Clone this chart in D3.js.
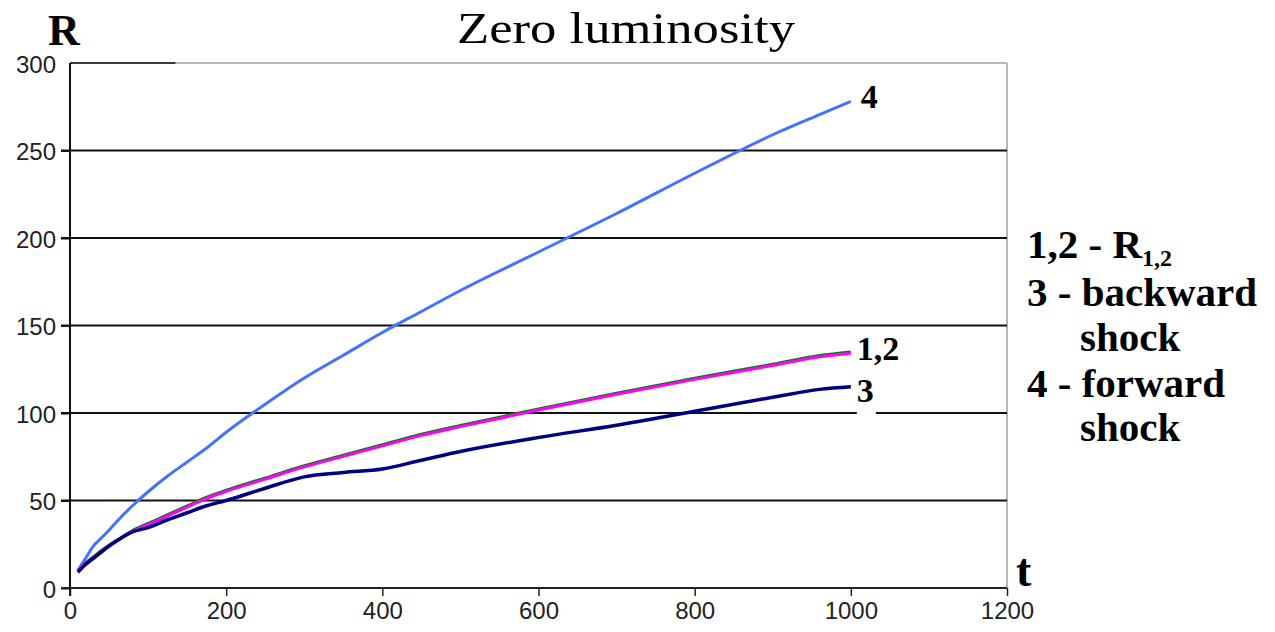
<!DOCTYPE html>
<html>
<head>
<meta charset="utf-8">
<script src="https://cdn.jsdelivr.net/npm/d3@7"></script>
<style>
  html, body { margin: 0; padding: 0; background: #fff; }
  svg { display: block; }
</style>
</head>
<body>
<svg id="chart" width="1275" height="632"></svg>
<script>
// Shock radii versus time, zero-luminosity case
const times    = [10, 20, 30, 40, 50, 60, 80, 100, 125, 150, 175, 200, 250, 300, 350, 400, 450, 500, 600, 700, 800, 900, 960, 1000];
const forward  = [10, 17, 24, 28.5, 33, 38, 47, 55, 64, 72, 80, 89, 105, 120, 133, 146, 158, 170, 192, 214, 237, 259, 270.5, 278];
const radius1  = [10, 14.5, 18, 21.5, 24.5, 27.5, 33, 37, 42, 47, 52, 56, 63, 70, 76, 82, 88, 93, 102.5, 111.5, 120, 128, 133, 135];
const radius2  = [9.6, 14, 17.4, 20.8, 23.8, 26.8, 32.2, 36.2, 41.2, 46.2, 51.2, 55.2, 62.2, 69.2, 75.2, 81.2, 87.2, 92.2, 101.7, 110.7, 119.2, 127.2, 132.2, 134.2];
const backward = [9, 13.5, 17, 20.5, 24, 27, 32, 34.5, 39, 43, 47, 50, 57, 63.5, 66, 68, 73, 78, 86, 93, 101, 109, 113.5, 115];

const xTicks = [0, 200, 400, 600, 800, 1000, 1200];
const yTicks = [0, 50, 100, 150, 200, 250, 300];
const gridValues = [50, 100, 150, 200, 250];

const svg = d3.select("#chart");
const x = d3.scaleLinear().domain([0, 1200]).range([70, 1007]);
const y = d3.scaleLinear().domain([0, 300]).range([588, 63]);

const serif = "'Liberation Serif', 'Times New Roman', serif";
const sans = "'Liberation Sans', Arial, sans-serif";

// frame: light top and right edges
svg.append("line").attr("x1", x(0)).attr("x2", x(1200)).attr("y1", y(300)).attr("y2", y(300))
  .attr("stroke", "#a0a0a0").attr("stroke-width", 1.5);
svg.append("line").attr("x1", x(0)).attr("x2", x(135)).attr("y1", y(300)).attr("y2", y(300))
  .attr("stroke", "#111").attr("stroke-width", 1.5);
svg.append("line").attr("x1", x(1200)).attr("x2", x(1200)).attr("y1", y(300)).attr("y2", y(0))
  .attr("stroke", "#a0a0a0").attr("stroke-width", 1.5);

// horizontal grid lines
svg.append("g").selectAll("line").data(gridValues).join("line")
  .attr("x1", x(0) - 9).attr("x2", x(1200))
  .attr("y1", d => y(d)).attr("y2", d => y(d))
  .attr("stroke", "#111").attr("stroke-width", 2);

// y axis
const yAxis = svg.append("g").attr("transform", `translate(${x(0)},0)`)
  .call(d3.axisLeft(y).tickValues(yTicks).tickSize(9).tickPadding(5).tickFormat(d3.format("d")));
yAxis.select(".domain").attr("stroke", "#111").attr("stroke-width", 2).attr("d", `M0,${y(300)}V${y(0) + 8}`);
yAxis.selectAll(".tick line").attr("stroke", "#111").attr("stroke-width", 2)
  .filter(d => d === 300).remove();
yAxis.selectAll(".tick text").attr("font-family", sans).attr("font-size", 24).attr("fill", "#222")
  .attr("dy", "0.38em");

// x axis
const xAxis = svg.append("g").attr("transform", `translate(0,${y(0)})`)
  .call(d3.axisBottom(x).tickValues(xTicks).tickSize(8).tickPadding(6).tickFormat(d3.format("d")));
xAxis.select(".domain").attr("stroke", "#222").attr("stroke-width", 2).attr("d", `M${x(0) - 9},0H${x(1200)}`);
xAxis.selectAll(".tick line").attr("stroke", "#222").attr("stroke-width", 1.5);
xAxis.selectAll(".tick text").attr("font-family", sans).attr("font-size", 24).attr("fill", "#222");

// curves
const line = d3.line().x(d => x(d[0])).y(d => y(d[1])).curve(d3.curveMonotoneX);
const series = [
  { values: forward,  color: "#4472ff", width: 3 },
  { values: radius1,  color: "#008000", width: 2.5 },
  { values: radius2,  color: "#ff00ff", width: 3 },
  { values: backward, color: "#000080", width: 3.5 }
];
svg.append("g").selectAll("path").data(series).join("path")
  .attr("d", s => line(times.map((t, i) => [t, s.values[i]])))
  .attr("fill", "none")
  .attr("stroke", s => s.color)
  .attr("stroke-width", s => s.width)
  .attr("stroke-linejoin", "round");

// end-of-curve labels
const lastT = times[times.length - 1];
const endLabels = [
  { text: "4",   value: forward[forward.length - 1],   dx: 10, dy: 6 },
  { text: "1,2", value: radius1[radius1.length - 1],   dx: 6,  dy: 8 },
  { text: "3",   value: backward[backward.length - 1], dx: 6,  dy: 15 }
];
const lbl = svg.append("g");
lbl.append("rect").attr("x", x(lastT) + 6).attr("y", y(backward[backward.length - 1]) - 8)
  .attr("width", 19).attr("height", 36).attr("fill", "#fff");
lbl.selectAll("text").data(endLabels).join("text")
  .attr("x", d => x(lastT) + d.dx)
  .attr("y", d => y(d.value) + d.dy)
  .attr("font-family", serif).attr("font-weight", "bold").attr("font-size", 34)
  .attr("fill", "#000")
  .text(d => d.text);

// title and axis names
svg.append("text").attr("x", 626).attr("y", 43).attr("text-anchor", "middle")
  .attr("font-family", serif).attr("font-size", 44).attr("fill", "#000")
  .attr("textLength", 338).attr("lengthAdjust", "spacingAndGlyphs")
  .text("Zero luminosity");
svg.append("text").attr("x", 48).attr("y", 45)
  .attr("font-family", serif).attr("font-weight", "bold").attr("font-size", 44).attr("fill", "#000")
  .text("R");
svg.append("text").attr("x", 1016).attr("y", 586)
  .attr("font-family", serif).attr("font-weight", "bold").attr("font-size", 46).attr("fill", "#000")
  .text("t");

// legend
const leg = svg.append("g").attr("font-family", serif).attr("font-weight", "bold")
  .attr("font-size", 41).attr("fill", "#000");
const l1 = leg.append("text").attr("x", 1027).attr("y", 258);
l1.append("tspan").text("1,2 - R");
l1.append("tspan").attr("font-size", 24).attr("dy", 8).text("1,2");
leg.append("text").attr("x", 1027).attr("y", 306).text("3 - backward");
leg.append("text").attr("x", 1080).attr("y", 351).text("shock");
leg.append("text").attr("x", 1027).attr("y", 397).text("4 - forward");
leg.append("text").attr("x", 1080).attr("y", 441).text("shock");
</script>
</body>
</html>
